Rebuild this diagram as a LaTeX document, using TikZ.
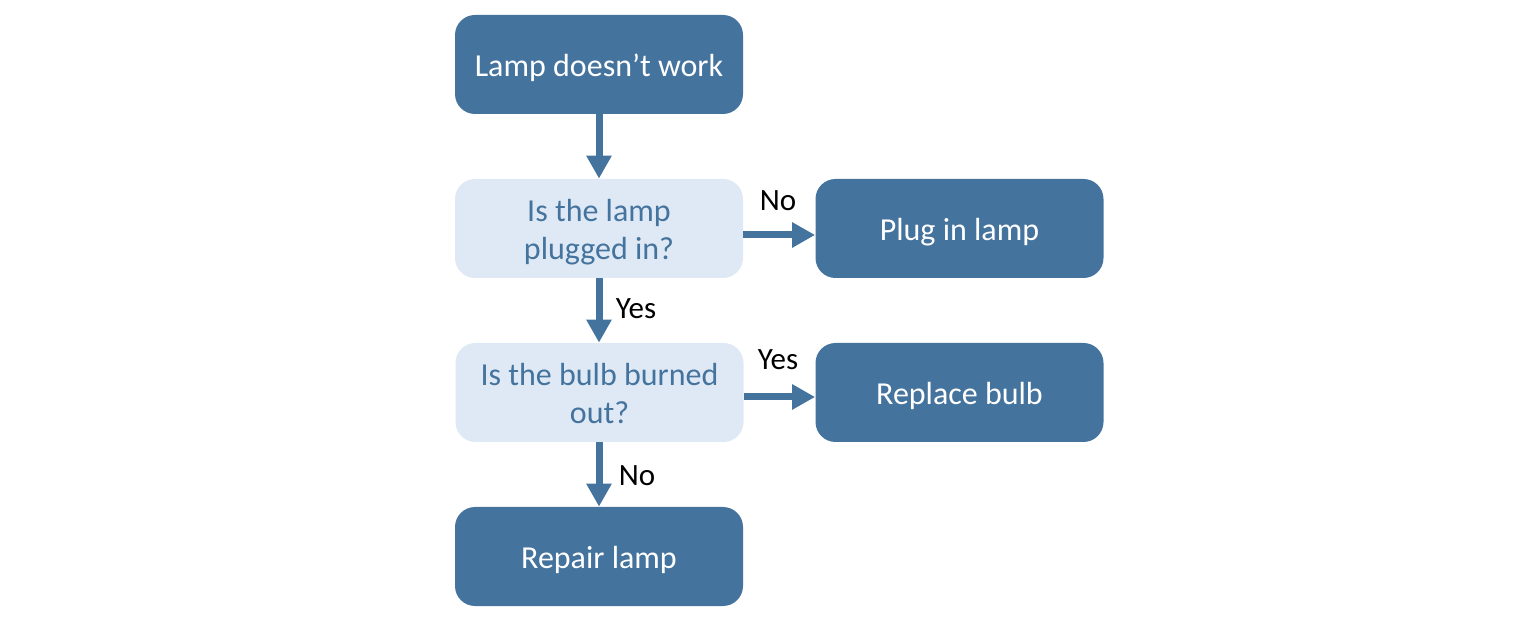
\documentclass[tikz,border=0pt]{standalone}
\usepackage{fontspec}
\setmainfont{Carlito}
\usetikzlibrary{arrows.meta}
\definecolor{dblue}{HTML}{44739E}
\definecolor{lblue}{HTML}{DEE9F5}
\newcommand{\dntext}[1]{\raisebox{-2pt}[\height][\depth]{\begin{tabular}{@{}c@{}}#1\end{tabular}}}
\begin{document}
\begin{tikzpicture}[x=0.5pt,y=-0.5pt,
  box/.style={rounded corners=10pt, minimum width=144pt, minimum height=49.5pt, inner sep=0pt, align=center, font=\fontsize{16}{19}\selectfont},
  dark/.style={box, fill=dblue, text=white},
  light/.style={box, fill=lblue, text=dblue},
  conn/.style={draw=dblue, line width=3.5pt, -{Triangle[width=12pt,length=11.5pt]}},
  lab/.style={font=\fontsize{15.5}{18}\selectfont, text=black, inner sep=0pt}]
\useasboundingbox (0,0) rectangle (1536,624);
\node[dark] (start) at (599,64.5) {\dntext{Lamp doesn’t work}};
\node[light] (q1) at (599,228.5) {\dntext{Is the lamp\\plugged in?}};
\node[dark] (plug) at (959.5,228.5) {\dntext{Plug in lamp}};
\node[light] (q2) at (599.5,392.5) {\dntext{Is the bulb burned\\out?}};
\node[dark] (repl) at (959.5,392.5) {\dntext{Replace bulb}};
\node[dark] (repair) at (599,556.5) {\dntext{Repair lamp}};
\draw[conn] (start.south) -- (q1.north);
\draw[conn] (q1.east |- 0,235) -- (plug.west |- 0,235);
\draw[conn] (q1.south) -- (q2.north -| q1.south);
\draw[conn] (q2.east |- 0,397) -- (repl.west |- 0,397);
\draw[conn] (q2.south -| repair.north) -- (repair.north);
\node[lab] (l1) at (778,201) {No};
\node[lab] (l2) at (636,309) {Yes};
\node[lab] (l3) at (778,360) {Yes};
\node[lab] (l4) at (637,476) {No};
\end{tikzpicture}
\end{document}
